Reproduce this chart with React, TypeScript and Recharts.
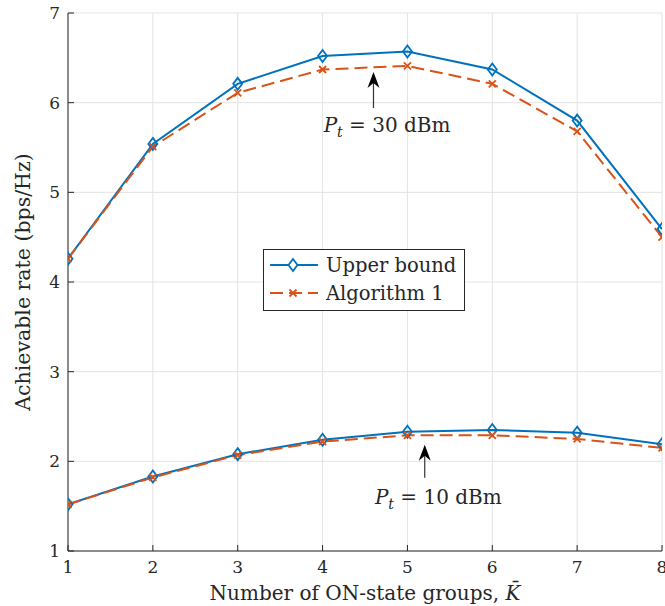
import React from 'react';
import {
  LineChart,
  Line,
  XAxis,
  YAxis,
  CartesianGrid,
  Legend,
  ReferenceLine,
  ReferenceDot,
} from 'recharts';

// number of ON-state groups (K bar)
const K_VALUES = [1, 2, 3, 4, 5, 6, 7, 8];
// Pt = 30 dBm
const UPPER_30 = [4.26, 5.54, 6.21, 6.52, 6.57, 6.37, 5.8, 4.59];
const ALG_30 = [4.26, 5.51, 6.11, 6.37, 6.41, 6.21, 5.68, 4.5];
// Pt = 10 dBm
const UPPER_10 = [1.52, 1.83, 2.08, 2.24, 2.33, 2.35, 2.32, 2.19];
const ALG_10 = [1.52, 1.82, 2.07, 2.22, 2.29, 2.29, 2.25, 2.15];

const X_TICKS = [1, 2, 3, 4, 5, 6, 7, 8];
const Y_TICKS = [1, 2, 3, 4, 5, 6, 7];
const SERIES_NAMES = ['Upper bound', 'Algorithm 1'];

const BLUE = '#0072BD';
const ORANGE = '#D95319';
const INK = '#262626';
const FONT = "'DejaVu Serif', 'Liberation Serif', serif";

const data = K_VALUES.map((k, i) => ({
  k,
  upper30: UPPER_30[i],
  alg30: ALG_30[i],
  upper10: UPPER_10[i],
  alg10: ALG_10[i],
}));

const Diamond = (props: any) => {
  const { cx, cy, key } = props;
  if (cx == null || cy == null) return <g key={key} />;
  return (
    <path
      key={key}
      d={`M${cx},${cy - 6} L${cx + 4.5},${cy} L${cx},${cy + 6} L${cx - 4.5},${cy} Z`}
      fill="none"
      stroke={BLUE}
      strokeWidth={1.8}
    />
  );
};

const Cross = (props: any) => {
  const { cx, cy, key } = props;
  if (cx == null || cy == null) return <g key={key} />;
  const s = 3.5;
  return (
    <path
      key={key}
      d={`M${cx - s},${cy - s} L${cx + s},${cy + s} M${cx - s},${cy + s} L${cx + s},${cy - s}`}
      stroke={ORANGE}
      strokeWidth={1.8}
    />
  );
};

const ArrowHead = (props: any) => {
  const { cx, cy } = props;
  return (
    <path
      d={`M${cx},${cy} L${cx + 6},${cy + 16} L${cx},${cy + 11} L${cx - 6},${cy + 16} Z`}
      fill="#000"
    />
  );
};

const PowerLabel = (power: string) => (props: any) => {
  const { cx, cy } = props;
  return (
    <text x={cx} y={cy} textAnchor="middle" style={{ fontFamily: FONT }} fontSize={20} fill={INK}>
      <tspan fontStyle="italic">P</tspan>
      <tspan fontStyle="italic" fontSize={14} dy={5}>t</tspan>
      <tspan dy={-5}>{` = ${power} dBm`}</tspan>
    </text>
  );
};

const emptyTick = () => <g />;

const renderLegend = () => (
  <svg width={202} height={62} style={{ display: 'block' }}>
    <rect x={0.5} y={0.5} width={201} height={61} fill="#fff" stroke={INK} strokeWidth={1} />
    <line x1={7} y1={16} x2={55} y2={16} stroke={BLUE} strokeWidth={2} />
    <path d="M30,10 L34.5,16 L30,22 L25.5,16 Z" fill="#fff" stroke={BLUE} strokeWidth={1.8} />
    <text x={63} y={23} style={{ fontFamily: FONT }} fontSize={19.5} fill={INK}>
      {SERIES_NAMES[0]}
    </text>
    <line x1={7} y1={44} x2={55} y2={44} stroke={ORANGE} strokeWidth={2} strokeDasharray="13 6" />
    <path d="M26.5,40.5 L33.5,47.5 M26.5,47.5 L33.5,40.5" stroke={ORANGE} strokeWidth={1.8} />
    <text x={63} y={51} style={{ fontFamily: FONT }} fontSize={19.5} fill={INK}>
      {SERIES_NAMES[1]}
    </text>
  </svg>
);

const XLabel = (props: any) => {
  const { viewBox } = props;
  const cx = viewBox.x + viewBox.width / 2;
  return (
    <text x={cx} y={viewBox.y + 49} textAnchor="middle" style={{ fontFamily: FONT }} fontSize={20} fill={INK}>
      Number of ON-state groups,{' '}
      <tspan fontStyle="italic">{'K\u0304'}</tspan>
    </text>
  );
};

const YLabel = (props: any) => {
  const { viewBox } = props;
  const cy = viewBox.y + viewBox.height / 2;
  const x = 23;
  return (
    <text
      x={x}
      y={cy}
      transform={`rotate(-90, ${x}, ${cy})`}
      textAnchor="middle"
      dominantBaseline="central"
      style={{ fontFamily: FONT }}
      fontSize={20.5}
      fill={INK}
    >
      Achievable rate (bps/Hz)
    </text>
  );
};

const tickStyle = { fill: INK, fontSize: 17, fontFamily: FONT, style: { fontFamily: FONT } };

export default function App() {
  return (
    <div style={{ position: 'absolute', left: 0, top: 0, background: '#fff' }}>
      <LineChart width={665} height={606} data={data} margin={{ top: 13, right: 3, left: 8, bottom: 0 }}>
        <CartesianGrid stroke="#e3e3e3" strokeWidth={1} />
        <XAxis
          dataKey="k"
          type="number"
          domain={[1, 8]}
          ticks={X_TICKS}
          interval={0}
          height={55}
          tickSize={-6}
          tickMargin={16}
          stroke={INK}
          tick={tickStyle}
          label={<XLabel />}
          allowDataOverflow
        />
        <XAxis
          xAxisId="top"
          orientation="top"
          type="number"
          domain={[1, 8]}
          ticks={X_TICKS}
          height={0}
          tickSize={-6}
          stroke={INK}
          tick={emptyTick}
          allowDataOverflow
        />
        <YAxis
          domain={[1, 7]}
          ticks={Y_TICKS}
          interval={0}
          width={60}
          tickSize={-6}
          tickMargin={14}
          stroke={INK}
          tick={tickStyle}
          label={<YLabel />}
          allowDataOverflow
        />
        <YAxis
          yAxisId="right"
          orientation="right"
          domain={[1, 7]}
          ticks={Y_TICKS}
          width={0}
          tickSize={-6}
          stroke={INK}
          tick={emptyTick}
          allowDataOverflow
        />
        <Legend
          layout="horizontal"
          verticalAlign="middle"
          align="center"
          content={renderLegend}
          wrapperStyle={{ position: 'absolute', left: 263, top: 249, width: 202, height: 62 }}
        />
        <Line type="linear" dataKey="upper30" name={SERIES_NAMES[0]} stroke={BLUE} strokeWidth={2} dot={Diamond} activeDot={false} isAnimationActive={false} />
        <Line type="linear" dataKey="alg30" name={SERIES_NAMES[1]} stroke={ORANGE} strokeWidth={2} strokeDasharray="13 6" dot={Cross} activeDot={false} isAnimationActive={false} />
        <Line type="linear" dataKey="upper10" stroke={BLUE} strokeWidth={2} dot={Diamond} activeDot={false} isAnimationActive={false} legendType="none" />
        <Line type="linear" dataKey="alg10" stroke={ORANGE} strokeWidth={2} strokeDasharray="13 6" dot={Cross} activeDot={false} isAnimationActive={false} legendType="none" />

        <ReferenceLine segment={[{ x: 4.6, y: 5.94 }, { x: 4.6, y: 6.25 }]} stroke="#333" strokeWidth={1.2} />
        <ReferenceDot x={4.6} y={6.342} r={0} shape={ArrowHead} />
        <ReferenceDot x={4.76} y={5.673} r={0} shape={PowerLabel('30')} />

        <ReferenceLine segment={[{ x: 5.204, y: 1.816 }, { x: 5.204, y: 2.1 }]} stroke="#333" strokeWidth={1.2} />
        <ReferenceDot x={5.204} y={2.184} r={0} shape={ArrowHead} />
        <ReferenceDot x={5.364} y={1.526} r={0} shape={PowerLabel('10')} />
      </LineChart>
    </div>
  );
}
